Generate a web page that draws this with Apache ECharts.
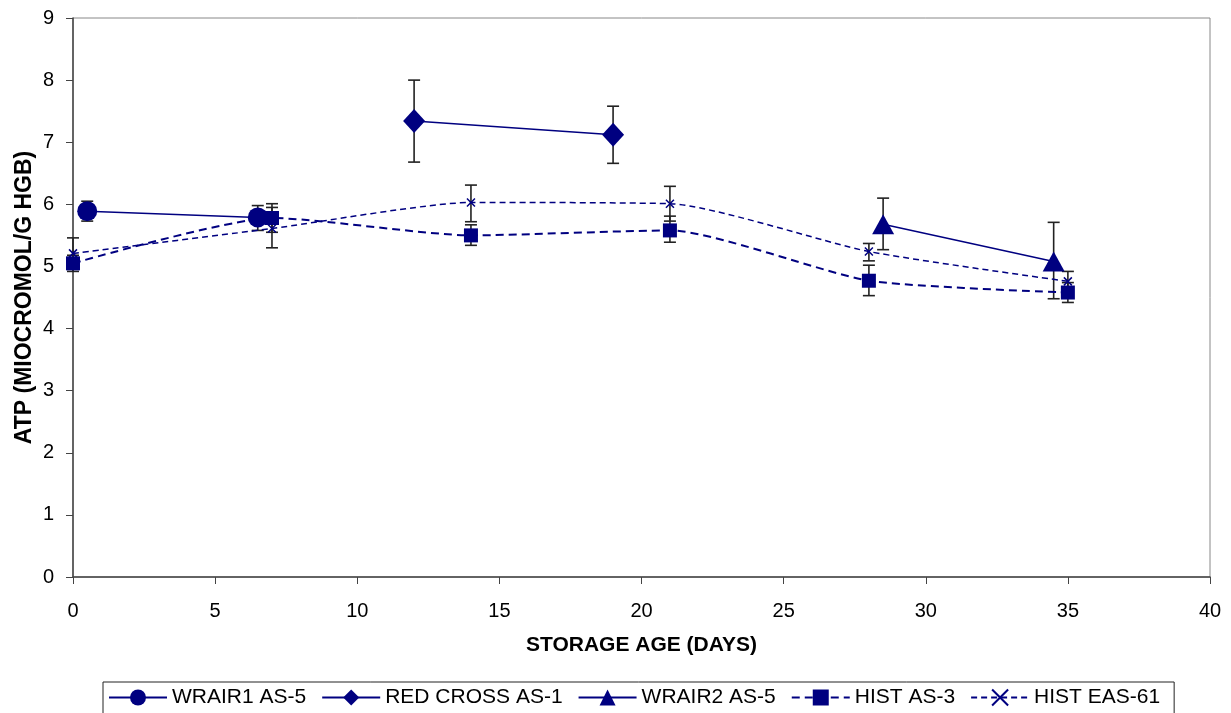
<!DOCTYPE html>
<html><head><meta charset="utf-8">
<script src="https://cdn.jsdelivr.net/npm/echarts@6/dist/echarts.min.js"></script>
<style>html,body{margin:0;padding:0;background:#fff}#c{width:1231px;height:713px}</style>
</head><body><div id="c"></div>
<script>
var wrair1X = [0.5, 6.5];
var wrair1Y = [5.89, 5.79];
var wrair1Lo = [5.73, 5.58];
var wrair1Hi = [6.05, 5.98];

var redX = [12, 19];
var redY = [7.34, 7.12];
var redLo = [6.68, 6.66];
var redHi = [8.0, 7.58];

var wrair2X = [28.5, 34.5];
var wrair2Y = [5.68, 5.08];
var wrair2Lo = [5.27, 4.48];
var wrair2Hi = [6.1, 5.71];

var as3X = [0, 7, 14, 21, 28, 35];
var as3Y = [5.05, 5.78, 5.5, 5.58, 4.77, 4.58];
var as3Lo = [4.92, 5.55, 5.34, 5.39, 4.53, 4.42];
var as3Hi = [5.18, 6.01, 5.67, 5.81, 5.02, 4.74];

var eas61X = [0, 7, 14, 21, 28, 35];
var eas61Y = [5.21, 5.61, 6.03, 6.01, 5.24, 4.76];
var eas61Lo = [4.99, 5.30, 5.72, 5.73, 5.09, 4.60];
var eas61Hi = [5.46, 5.95, 6.31, 6.29, 5.37, 4.92];

var names = ['WRAIR1 AS-5', 'RED CROSS AS-1', 'WRAIR2 AS-5', 'HIST AS-3', 'HIST EAS-61'];
var xTicks = [0, 5, 10, 15, 20, 25, 30, 35, 40];
var yTicks = [0, 1, 2, 3, 4, 5, 6, 7, 8, 9];

var NAVY = '#000080';
var FONT = 'Liberation Sans, Arial, sans-serif';
function pts(xs, ys) { return xs.map(function (x, i) { return [x, ys[i]]; }); }
function errs(xs, lo, hi) { return xs.map(function (x, i) { return [x, lo[i], hi[i]]; }); }

function errSeries(xs, lo, hi) {
  return {
    type: 'custom', silent: true, z: 1,
    data: errs(xs, lo, hi),
    renderItem: function (params, api) {
      var x = api.value(0);
      var a = api.coord([x, api.value(1)]);
      var b = api.coord([x, api.value(2)]);
      var w = 6;
      var st = { stroke: '#222', lineWidth: 1.6 };
      return { type: 'group', children: [
        { type: 'line', shape: { x1: a[0], y1: a[1], x2: b[0], y2: b[1] }, style: st },
        { type: 'line', shape: { x1: a[0] - w, y1: a[1], x2: a[0] + w, y2: a[1] }, style: st },
        { type: 'line', shape: { x1: b[0] - w, y1: b[1], x2: b[0] + w, y2: b[1] }, style: st }
      ]};
    }
  };
}

function lineSeries(name, xs, ys, symbol, size, dashed, extra) {
  var s = {
    name: name, type: 'line', z: 3,
    data: pts(xs, ys),
    symbol: symbol, symbolSize: size, showSymbol: true,
    smooth: dashed ? 0.2 : false,
    lineStyle: { color: NAVY, width: dashed ? 2 : 1.5, type: dashed ? [8, 5] : 'solid' },
    itemStyle: { color: NAVY, opacity: 1 },
    emphasis: { disabled: true },
    animation: false
  };
  if (extra) for (var k in extra) s[k] = extra[k];
  return s;
}

var chart = echarts.init(document.getElementById('c'));
chart.setOption({
  animation: false,
  backgroundColor: '#fff',
  grid: { left: 73, right: 21, top: 18, bottom: 136, show: true, borderColor: '#888', borderWidth: 1 },
  xAxis: {
    type: 'value', min: xTicks[0], max: xTicks[xTicks.length - 1], interval: 5,
    name: 'STORAGE AGE (DAYS)', nameLocation: 'middle', nameGap: 58, nameMoveOverlap: false,
    nameTextStyle: { fontFamily: FONT, fontWeight: 'bold', fontSize: 21, color: '#000' },
    axisLine: { lineStyle: { color: '#444', width: 1.5 } },
    axisTick: { show: true, inside: false, length: 7, lineStyle: { color: '#444' } },
    axisLabel: { fontFamily: FONT, fontSize: 20, color: '#000', margin: 24 },
    splitLine: { show: false }
  },
  yAxis: {
    type: 'value', min: yTicks[0], max: yTicks[yTicks.length - 1], interval: 1,
    name: 'ATP (MIOCROMOL/G HGB)', nameLocation: 'middle', nameGap: 37, nameRotate: 90, nameMoveOverlap: false,
    nameTextStyle: { fontFamily: FONT, fontWeight: 'bold', fontSize: 23, color: '#000' },
    axisLine: { show: true, lineStyle: { color: '#444', width: 1.5 } },
    axisTick: { show: true, inside: false, length: 7, lineStyle: { color: '#444' } },
    axisLabel: { fontFamily: FONT, fontSize: 20, color: '#000', margin: 19 },
    splitLine: { show: false }
  },
  legend: {
    data: names,
    left: 103, top: 682,
    itemWidth: 58, itemHeight: 20, itemGap: 15,
    padding: [5, 14, 12, 5],
    borderColor: '#222', borderWidth: 1,
    textStyle: { fontFamily: FONT, fontSize: 21, color: '#000' },
    selectedMode: false
  },
  series: [
    errSeries(wrair1X, wrair1Lo, wrair1Hi),
    errSeries(redX, redLo, redHi),
    errSeries(wrair2X, wrair2Lo, wrair2Hi),
    errSeries(as3X, as3Lo, as3Hi),
    errSeries(eas61X, eas61Lo, eas61Hi),
    lineSeries(names[0], wrair1X, wrair1Y, 'circle', 20, false),
    lineSeries(names[1], redX, redY, 'diamond', [22, 24], false),
    lineSeries(names[2], wrair2X, wrair2Y, 'triangle', [22, 20], false),
    lineSeries(names[3], as3X, as3Y, 'rect', 14, true),
    lineSeries(names[4], eas61X, eas61Y, 'path://M0,0L10,10M10,0L0,10', 8, true, {
      lineStyle: { color: NAVY, width: 1.5, type: [6, 4] },
      itemStyle: { color: NAVY, borderColor: NAVY, borderWidth: 1.5 }
    })
  ]
});
</script></body></html>
